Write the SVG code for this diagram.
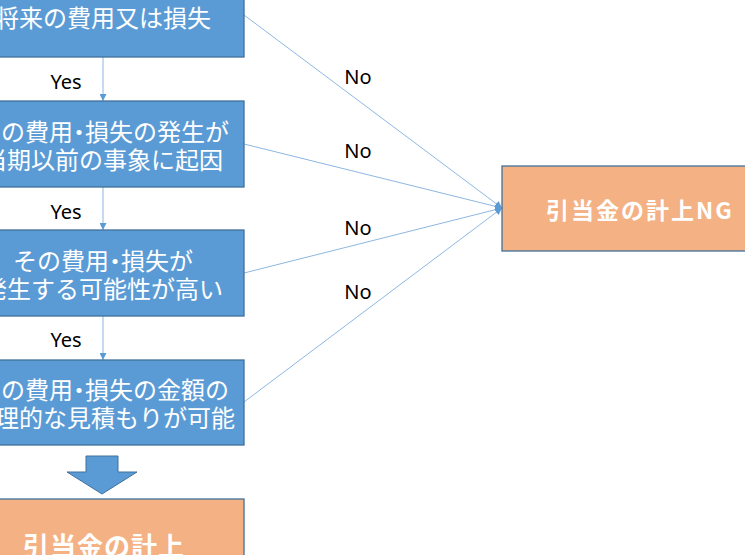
<svg xmlns="http://www.w3.org/2000/svg" width="745" height="555" viewBox="0 0 745 555">
<defs>
<style>
.box{fill:#5B9BD5;stroke:#41719C;stroke-width:1.3}
.obox{fill:#F4B183;stroke:#41719C;stroke-width:1.3}
.t{font-family:"Noto Sans CJK JP","Noto Sans",sans-serif;font-size:24px;fill:#fff;text-anchor:middle;dominant-baseline:central}
.ot{font-family:"Noto Sans CJK JP","Noto Sans",sans-serif;font-weight:bold;fill:#fff;dominant-baseline:central}
.lab{font-family:"Noto Sans","Liberation Sans",sans-serif;font-size:20px;fill:#000;text-anchor:middle;dominant-baseline:central}
.ln{stroke:#8DB7E2;stroke-width:1;fill:none}
</style>
<marker id="ah" viewBox="0 0 10 10" refX="10" refY="5" markerWidth="7" markerHeight="7" orient="auto" markerUnits="userSpaceOnUse">
<path d="M0,0 L10,5 L0,10 z" fill="#5B9BD5"/>
</marker>
</defs>
<rect width="745" height="555" fill="#fff"/>
<g id="connectors">
<line class="ln" x1="103" y1="57" x2="103" y2="101" marker-end="url(#ah)"/>
<line class="ln" x1="103" y1="187" x2="103" y2="230" marker-end="url(#ah)"/>
<line class="ln" x1="103" y1="316" x2="103" y2="360" marker-end="url(#ah)"/>
<line class="ln" x1="244" y1="15" x2="502" y2="208" marker-end="url(#ah)"/>
<line class="ln" x1="244" y1="144" x2="502" y2="208" marker-end="url(#ah)"/>
<line class="ln" x1="244" y1="273" x2="502" y2="208" marker-end="url(#ah)"/>
<line class="ln" x1="244" y1="402" x2="502" y2="208" marker-end="url(#ah)"/>
<text class="lab" x="66" y="81">Yes</text>
<text class="lab" x="66" y="211">Yes</text>
<text class="lab" x="66" y="339">Yes</text>
<text class="lab" x="358" y="76">No</text>
<text class="lab" x="358" y="150">No</text>
<text class="lab" x="358" y="227">No</text>
<text class="lab" x="358" y="291">No</text>
</g>
<g id="node1">
<rect class="box" x="-40" y="-30" width="284" height="87"/>
<text class="t" x="103" y="16">将来の費用又は損失</text>
</g>
<g id="node2">
<rect class="box" x="-40" y="101" width="284" height="86"/>
<text class="t" x="103" y="130">その費用<tspan dx="-6">・</tspan><tspan dx="-6">損失の発生が</tspan></text>
<text class="t" x="103" y="158">当期以前の事象に起因</text>
</g>
<g id="node3">
<rect class="box" x="-40" y="230" width="284" height="86"/>
<text class="t" x="103" y="259">その費用<tspan dx="-6">・</tspan><tspan dx="-6">損失が</tspan></text>
<text class="t" x="103" y="287">発生する可能性が高い</text>
</g>
<g id="node4">
<rect class="box" x="-40" y="360" width="284" height="85"/>
<text class="t" x="103" y="388">その費用<tspan dx="-6">・</tspan><tspan dx="-6">損失の金額の</tspan></text>
<text class="t" x="103" y="416">合理的な見積もりが可能</text>
</g>
<g id="blockarrow">
<path d="M86,456 L118,456 L118,472 L137,472 L102,494 L67,472 L86,472 Z" fill="#5B9BD5" stroke="#41719C" stroke-width="1"/>
</g>
<g id="result">
<rect class="obox" x="-40" y="499" width="284" height="80"/>
<text class="ot" x="104" y="544" font-size="26" text-anchor="middle" letter-spacing="1">引当金の計上</text>
</g>
<g id="ng">
<rect class="obox" x="502" y="166" width="260" height="85"/>
<text class="ot" x="546" y="209" font-size="23" letter-spacing="2">引当金の計上NG</text>
</g>
</svg>
